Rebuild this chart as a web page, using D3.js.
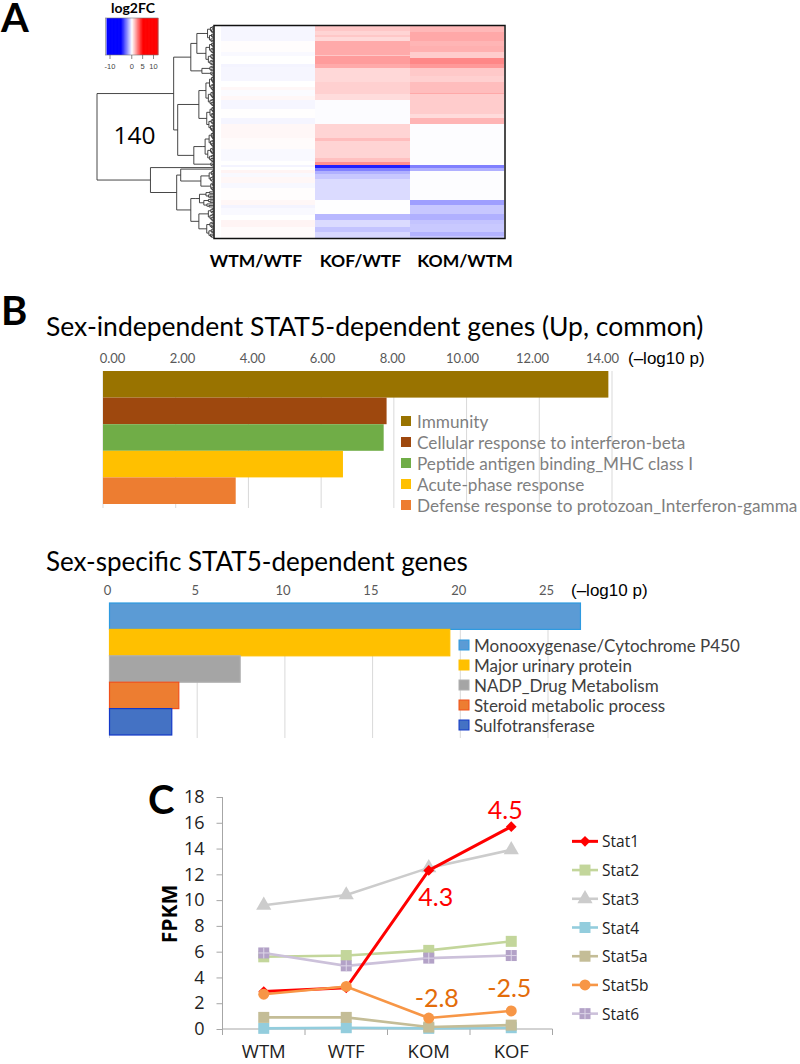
<!DOCTYPE html>
<html><head><meta charset="utf-8">
<script src="https://cdnjs.cloudflare.com/ajax/libs/d3/7.8.5/d3.min.js"></script>
<style>html,body{margin:0;padding:0;background:#fff}svg{display:block}text{font-family:Lato,sans-serif}</style>
</head><body><svg id="c" width="800" height="1064"></svg>
<script>
// ---- Panel A data: [log2FC, number of rows] runs per column
const heatColumns = ["WTM/WTF","KOF/WTF","KOM/WTM"];
const heatWT = [[-.18,10],[.04,7],[-.11,3],[0,5],[-.22,2],[-.18,9],[0,4],[.16,2],[-.08,4],[.16,3],[-.18,6],[.02,6],[-.2,4],[.16,9],[.08,7],[-.11,8],[0,3],[-.22,1],[0,2],[.22,2],[-.11,3],[.16,4],[-.14,3],[.04,8],[.16,3],[-.22,2],[-.11,5],[0,3],[.22,5],[.08,7]];
const heatKOF = [[1.1,3],[.85,3],[1.1,1],[.75,3],[1.67,9],[1.1,1],[1.95,5],[1.67,3],[.76,9],[.92,8],[.69,4],[-.05,16],[.84,9],[1.3,2],[.84,11],[1.24,3],[2.2,2],[-4.4,2],[-2.5,2],[-1.55,2],[-1.1,3],[-.7,14],[-.02,9],[-1.4,4],[-.7,5],[-1.15,3],[-.76,4]];
const heatKOM = [[1.4,4],[1.7,6],[1.45,3],[1.55,4],[1,4],[2.35,4],[2,3],[1.05,5],[.92,4],[1.3,7],[1.7,1],[1,13],[.7,3],[1.45,4],[-.03,27],[-2.5,2],[-1.55,2],[-.03,19],[-1.9,3],[-1.1,6],[-1.55,4],[-1.15,3],[-1.05,5],[-1.5,3],[-1.1,1]];
const legendTicks = [-10,0,5,10];
// dendrogram: [merge height, children...]; a bare number is a terminal cluster of that many rows
const dendro = [116,
  [40,
    [23,[17,[8,11],[10,15]],[12,[5,4],[4,3]]],
    [36,
      [15,[10,20],[9,17]],
      [20,[11,20],[4,3]]]],
  [63,
    1,
    [37,
      [33,1,[13,[6,8],[4,6]]],
      [23,[18,11],[15,[7,9],[9,11]]]]]];

// ---- Panel B data
const upTerms = ["Immunity","Cellular response to interferon-beta","Peptide antigen binding_MHC class I","Acute-phase response","Defense response to protozoan_Interferon-gamma"];
const upValues = [13.9,7.8,7.72,6.6,3.65];
const upColors = ["#997300","#9e480e","#70ad47","#ffc000","#ed7d31"];
const upTicks = [0,2,4,6,8,10,12,14];
const sexTerms = ["Monooxygenase/Cytochrome P450","Major urinary protein","NADP_Drug Metabolism","Steroid metabolic process","Sulfotransferase"];
const sexValues = [26.85,19.4,7.45,3.95,3.55];
const sexColors = ["#5b9bd5","#ffc000","#a5a5a5","#ed7d31","#4472c4"];
const sexStrokes = ["#2e9ae0","#ffc000","#b0b0b0","#f0501a","#1238c8"];
const sexTicks = [0,5,10,15,20,25];

// ---- Panel C data
const samples = ["WTM","WTF","KOM","KOF"];
const stat1 = [2.9,3.2,12.3,15.7];
const stat2 = [5.6,5.7,6.1,6.8];
const stat3 = [9.6,10.4,12.5,13.9];
const stat4 = [0.05,0.1,0.05,0.1];
const stat5a = [0.9,0.9,0.15,0.3];
const stat5b = [2.7,3.3,0.85,1.4];
const stat6 = [5.9,4.9,5.5,5.7];
const statNames = ["Stat1","Stat2","Stat3","Stat4","Stat5a","Stat5b","Stat6"];
const statColors = ["#ff0000","#c3d69b","#cccccc","#93cddd","#c4bd97","#f79646","#ccc1da"];
const statMarkers = ["#ff0000","#c3d69b","#cccccc","#93cddd","#c4bd97","#f79646","#b3a2c7"];
const statShapes = ["diamond","square","triangle","square","square","circle","cross"];
const statValues = [stat1,stat2,stat3,stat4,stat5a,stat5b,stat6];
const yTicksC = [0,2,4,6,8,10,12,14,16,18];
const notes = [["4.5",3,15.7,"#ff0000",-6,-18],["4.3",2,12.3,"#ff0000",7,26],["-2.8",2,0.85,"#e36c0a",8,-21],["-2.5",3,1.4,"#e36c0a",-2,-24]];

const svg = d3.select("#c");
const T = (g,x,y,s,size,opts={}) => g.append("text").attr("x",x).attr("y",y).text(s)
  .attr("font-size",size).attr("fill",opts.fill||"#000").attr("font-weight",opts.weight||400)
  .attr("text-anchor",opts.anchor||"start").attr("dominant-baseline","central")
  .style("font-family",opts.family||"Lato,sans-serif");

// panel letters
T(svg,1,17,"A",40,{weight:700}); T(svg,1,310,"B",40,{weight:700}); T(svg,148,799,"C",40,{weight:700});

// ---- Panel A
const A = svg.append("g");
const nRows = 140;
const rowY = d3.scaleLinear().domain([0,nRows]).range([26,238]);
const colX = d3.scaleBand().domain(heatColumns).range([220.5,504]);
const fc = d3.scaleLinear().domain([-5,0,5]).range(["#0000ff","#ffffff","#ff0000"]).clamp(true);
[heatWT,heatKOF,heatKOM].forEach((runs,i)=>{
  let r=0; const segs = runs.map(([v,n])=>{const s={v,r,n}; r+=n; return s;});
  A.append("g").selectAll("rect").data(segs).join("rect")
    .attr("x",colX(heatColumns[i])).attr("width",colX.bandwidth())
    .attr("y",d=>rowY(d.r)).attr("height",d=>rowY(d.r+d.n)-rowY(d.r))
    .attr("fill",d=>fc(d.v)).attr("shape-rendering","crispEdges");
});
A.append("rect").attr("x",214).attr("y",25.5).attr("width",291).attr("height",213)
  .attr("fill","none").attr("stroke","#111").attr("stroke-width",1.5);
const labelX = d3.scalePoint().domain(heatColumns).range([256,465]);
heatColumns.forEach(c=>T(A,labelX(c),260,c,17.5,{weight:700,anchor:"middle"}));

// dendrogram
const dX = d3.scaleLinear().domain([0,116]).range([214,97]);
let nextRow=0;
function expand(node,hCap){
  if(typeof node==="number") return cluster(node,hCap);
  return {h:node[0],children:node.slice(1).map(c=>expand(c,node[0]*0.8))};
}
function cluster(n,h){
  if(n===1) return {h:0,row:nextRow++};
  const a=Math.floor(n/2);
  return {h,children:[cluster(a,h*0.55),cluster(n-a,h*0.7)]};
}
const tree = d3.hierarchy(expand(dendro,0));
tree.eachAfter(d=>{ d.yy = d.children ? d3.mean(d.children,c=>c.yy) : rowY(d.data.row+.5); });
const dg = A.append("g").attr("fill","none").attr("stroke","#333").attr("stroke-width",.9);
dg.selectAll("path").data(tree.descendants().filter(d=>d.children)).join("path")
  .attr("d",d=>{
    const x=dX(d.data.h);
    return d.children.map(c=>`M${x},${c.yy}H${dX(c.data.h)}`).join("")+
      `M${x},${d3.min(d.children,c=>c.yy)}V${d3.max(d.children,c=>c.yy)}`;
  });
T(A,134.5,134,"140",24.5,{anchor:"middle",family:"Open Sans, sans-serif"});

// colour key
const keyX = d3.scaleLinear().domain([-10,10]).range([110,153.5]);
const keyVals = d3.range(-11.6,12,0.2);
const K = A.append("g");
K.selectAll("rect").data(keyVals).join("rect").attr("x",d=>keyX(d)).attr("y",18).attr("width",1)
  .attr("height",37).attr("fill",d=>fc(d));
K.append("rect").attr("x",105.5).attr("y",18).attr("width",52.5).attr("height",37).attr("fill","none").attr("stroke","#777").attr("stroke-width",.6);
K.selectAll("line").data(legendTicks).join("line").attr("x1",d=>keyX(d)).attr("x2",d=>keyX(d)).attr("y1",55).attr("y2",59).attr("stroke","#555").attr("stroke-width",.7);
legendTicks.forEach(t=>T(K,keyX(t),66.5,t,7.5,{anchor:"middle",fill:"#444",family:"Liberation Sans"}));
T(A,133,7,"log2FC",14,{weight:700,anchor:"middle"});

// ---- Panel B helper
function barPanel(o){
  const g=svg.append("g");
  T(g,46,o.titleY,o.title,o.titleSize);
  const x=d3.scaleLinear().domain([0,o.unitMax]).range([o.x0,o.x1]);
  const y=d3.scaleBand().domain(o.terms).range([o.y0,o.y1]);
  g.append("g").selectAll("line").data(o.ticks).join("line")
    .attr("x1",d=>x(d)).attr("x2",d=>x(d)).attr("y1",o.y0).attr("y2",o.gridEnd)
    .attr("stroke","#d9d9d9").attr("stroke-width",1);
  g.append("g").selectAll("rect").data(o.terms).join("rect")
    .attr("x",x(0)).attr("y",d=>y(d)).attr("width",(d,i)=>x(o.values[i])-x(0)).attr("height",y.bandwidth())
    .attr("fill",(d,i)=>o.colors[i]).attr("stroke",(d,i)=>o.strokes?o.strokes[i]:"none").attr("stroke-width",o.strokes?1.2:0);
  const lab=d3.scaleLinear().domain([0,o.unitMax]).range([o.lab0,o.lab1]);
  const ax=g.append("g").attr("transform",`translate(0,${o.labY})`)
    .call(d3.axisTop(lab).tickValues(o.ticks).tickSize(0).tickPadding(0).tickFormat(o.fmt));
  ax.select(".domain").remove();
  ax.selectAll("text").attr("font-size",o.tickSize).attr("fill","#595959").attr("dominant-baseline","central").attr("dy",0).attr("y",0).style("font-family","Lato,sans-serif");
  T(g,o.unitX,o.labY,"(–log10 p)",o.unitSize,{family:"Liberation Sans"});
  o.terms.forEach((t,i)=>{
    g.append("rect").attr("x",o.legX).attr("y",o.legY[i]-5).attr("width",10).attr("height",10).attr("fill",o.colors[i]).attr("stroke",o.strokes?o.strokes[i]:"none").attr("stroke-width",o.strokes?1:0);
    T(g,o.legX+o.legGap,o.legY[i],t,o.legSize,{fill:o.legFill});
  });
}
barPanel({title:"Sex-independent STAT5-dependent genes (Up, common)",titleY:326,titleSize:26.5,unitMax:14,x0:103,x1:612,y0:371,y1:504,gridEnd:508,
  terms:upTerms,values:upValues,colors:upColors,ticks:upTicks,fmt:d3.format(".2f"),lab0:112,lab1:602,labY:358,tickSize:13,unitX:628,unitSize:17,
  legX:401,legGap:16,legY:[421,442,463,484,505],legSize:17.2,legFill:"#7f7f7f"});
barPanel({title:"Sex-specific STAT5-dependent genes",titleY:561,titleSize:26,unitMax:25,x0:109.5,x1:548,y0:603,y1:735,gridEnd:738,
  terms:sexTerms,values:sexValues,colors:sexColors,strokes:sexStrokes,ticks:sexTicks,fmt:d3.format("d"),lab0:107,lab1:546,labY:590,tickSize:13,unitX:571,unitSize:17,
  legX:459,legGap:15,legY:[645,665,685,705,725],legSize:17,legFill:"#404040"});

// ---- Panel C
const C=svg.append("g");
const xC=d3.scaleBand().domain(samples).range([222.5,552.5]);
const yC=d3.scaleLinear().domain([0,18]).range([1029,797]);
const axisColor="#a6a6a6";
C.append("line").attr("x1",222.5).attr("x2",222.5).attr("y1",yC(18)).attr("y2",yC(0)+6).attr("stroke",axisColor);
const ya=C.append("g").attr("transform","translate(222.5,0)").call(d3.axisLeft(yC).tickValues(yTicksC).tickSize(6).tickPadding(12));
ya.select(".domain").remove(); ya.selectAll("line").attr("stroke",axisColor);
ya.selectAll("text").attr("font-size",18).attr("fill","#222").style("font-family","Open Sans, sans-serif");
const xa=C.append("g").attr("transform",`translate(0,${yC(0)})`).call(d3.axisBottom(xC).tickSize(0).tickPadding(16));
xa.select(".domain").attr("stroke",axisColor).attr("d",`M222.5,0H552.5`);
xa.selectAll("text").attr("font-size",18.5).attr("fill","#222").style("font-family","Open Sans, sans-serif");
C.append("g").selectAll("line").data(d3.range(0,samples.length+1)).join("line")
  .attr("x1",i=>222.5+i*xC.step()).attr("x2",i=>222.5+i*xC.step()).attr("y1",yC(0)).attr("y2",yC(0)+6).attr("stroke",axisColor);
T(C,0,0,"FPKM",21,{weight:700,anchor:"middle",family:"Open Sans, sans-serif"}).attr("transform","translate(169,914) rotate(-90)").attr("x",0).attr("y",0);
function marker(g,kind,cx,cy,color){
  if(kind==="circle") g.append("circle").attr("cx",cx).attr("cy",cy).attr("r",5.5).attr("fill",color);
  else if(kind==="diamond") g.append("path").attr("d",d3.symbol(d3.symbolSquare,58)()).attr("transform",`translate(${cx},${cy}) rotate(45)`).attr("fill",color);
  else if(kind==="triangle") g.append("path").attr("d",d3.symbol(d3.symbolTriangle,100)()).attr("transform",`translate(${cx},${cy})`).attr("fill",color);
  else{
    g.append("rect").attr("x",cx-5.5).attr("y",cy-5.5).attr("width",11).attr("height",11).attr("fill",color);
    if(kind==="cross") g.append("path").attr("d",`M${cx-5.5},${cy}H${cx+5.5}M${cx},${cy-5.5}V${cy+5.5}`).attr("stroke","#ddd6e8").attr("stroke-width",1);
  }
}
const cx=s=>xC(s)+xC.bandwidth()/2;
const lineGen=d3.line().x((d,i)=>cx(samples[i])).y(d=>yC(d));
const order=[3,4,1,6,2,0,5];
order.forEach(k=>{
  const g=C.append("g");
  g.append("path").attr("d",lineGen(statValues[k])).attr("fill","none").attr("stroke",statColors[k]).attr("stroke-width",k===0?3:2.6);
  statValues[k].forEach((v,i)=>marker(g,statShapes[k],cx(samples[i]),yC(v),statMarkers[k]));
});
notes.forEach(([s,i,v,col,dx,dy])=>T(C,cx(samples[i])+dx,yC(v)+dy,s,25,{fill:col,anchor:"middle"}));
const legC=d3.scaleBand().domain(statNames).range([827,1028]);
statNames.forEach((n,k)=>{
  const y=legC(n)+legC.bandwidth()/2, g=C.append("g");
  g.append("line").attr("x1",572).attr("x2",598).attr("y1",y).attr("y2",y).attr("stroke",statColors[k]).attr("stroke-width",k===0?3:2.6);
  marker(g,statShapes[k],585,y,statMarkers[k]);
  T(g,602,y,n,15.5,{fill:"#222",family:"Open Sans, sans-serif"});
});
</script></body></html>
